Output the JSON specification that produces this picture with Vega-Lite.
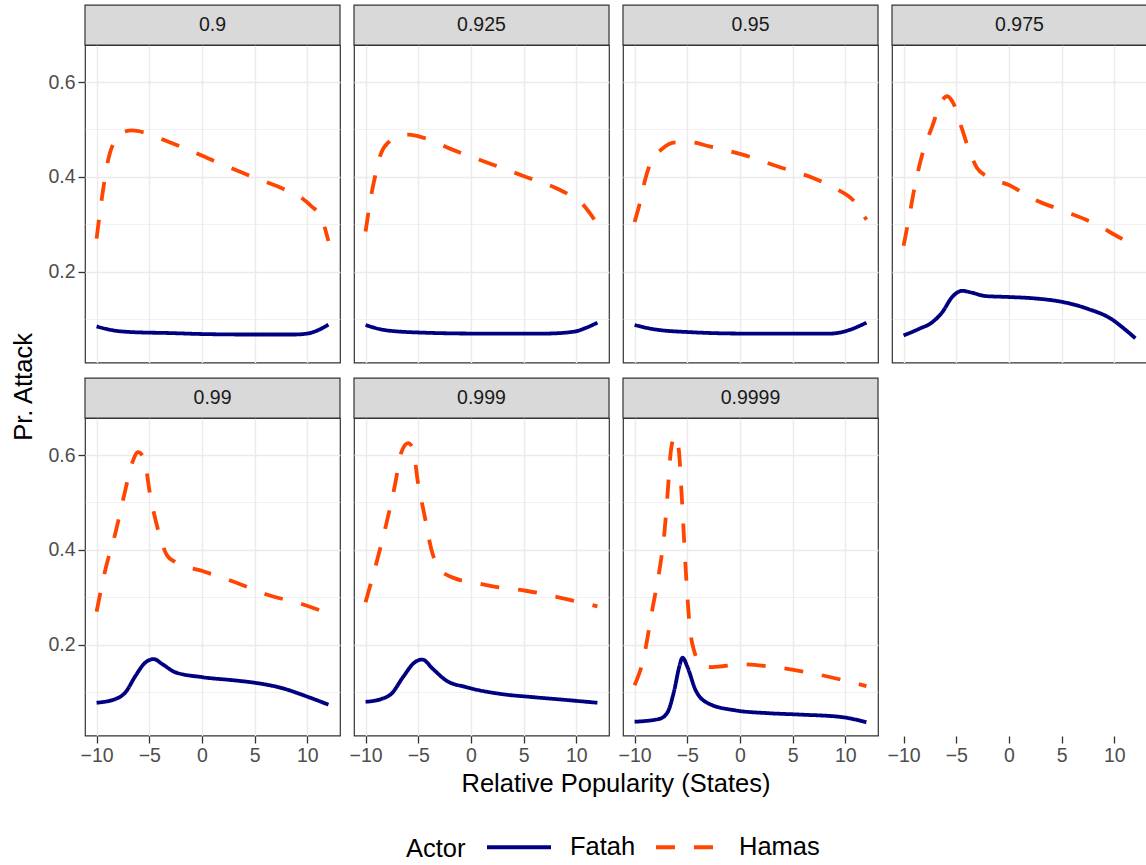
{
  "$schema": "https://vega.github.io/schema/vega-lite/v6.json",
  "description": "Pr. Attack by relative popularity, faceted by level",
  "title": {"text": "Pr. Attack", "orient": "left", "anchor": "middle", "frame": "bounds", "dx": 46, "fontSize": 25.5, "fontWeight": "normal", "font": "Liberation Sans", "color": "#000000", "offset": 10},
  "padding": {"left": 12, "top": 2, "right": 0, "bottom": 0},
  "bounds": "flush",
  "spacing": {"row": 55, "column": 14},
  "columns": 4,
  "data": {
    "values": [
      {"level": "0.9", "actor": "Hamas", "x": -10, "y": 0.27},
      {"level": "0.9", "actor": "Hamas", "x": -9.5, "y": 0.355},
      {"level": "0.9", "actor": "Hamas", "x": -8.9, "y": 0.436},
      {"level": "0.9", "actor": "Hamas", "x": -8.2, "y": 0.479},
      {"level": "0.9", "actor": "Hamas", "x": -7.4, "y": 0.495},
      {"level": "0.9", "actor": "Hamas", "x": -6.6, "y": 0.498},
      {"level": "0.9", "actor": "Hamas", "x": -5.4, "y": 0.493},
      {"level": "0.9", "actor": "Hamas", "x": -3.5, "y": 0.477},
      {"level": "0.9", "actor": "Hamas", "x": -1.9, "y": 0.463},
      {"level": "0.9", "actor": "Hamas", "x": 1.2, "y": 0.433},
      {"level": "0.9", "actor": "Hamas", "x": 4.7, "y": 0.401},
      {"level": "0.9", "actor": "Hamas", "x": 7.9, "y": 0.373},
      {"level": "0.9", "actor": "Hamas", "x": 9.5, "y": 0.355},
      {"level": "0.9", "actor": "Hamas", "x": 10.4, "y": 0.338},
      {"level": "0.9", "actor": "Hamas", "x": 11.3, "y": 0.316},
      {"level": "0.9", "actor": "Hamas", "x": 12, "y": 0.265},
      {"level": "0.9", "actor": "Fatah", "x": -10, "y": 0.085},
      {"level": "0.9", "actor": "Fatah", "x": -8.5, "y": 0.077},
      {"level": "0.9", "actor": "Fatah", "x": -6.6, "y": 0.073},
      {"level": "0.9", "actor": "Fatah", "x": -3, "y": 0.071},
      {"level": "0.9", "actor": "Fatah", "x": 0, "y": 0.069},
      {"level": "0.9", "actor": "Fatah", "x": 4, "y": 0.068},
      {"level": "0.9", "actor": "Fatah", "x": 8.8, "y": 0.068},
      {"level": "0.9", "actor": "Fatah", "x": 10, "y": 0.07},
      {"level": "0.9", "actor": "Fatah", "x": 10.8, "y": 0.075},
      {"level": "0.9", "actor": "Fatah", "x": 12, "y": 0.089},
      {"level": "0.925", "actor": "Hamas", "x": -10, "y": 0.285},
      {"level": "0.925", "actor": "Hamas", "x": -9.43, "y": 0.366},
      {"level": "0.925", "actor": "Hamas", "x": -9.1, "y": 0.401},
      {"level": "0.925", "actor": "Hamas", "x": -8.58, "y": 0.447},
      {"level": "0.925", "actor": "Hamas", "x": -7.74, "y": 0.475},
      {"level": "0.925", "actor": "Hamas", "x": -6.8, "y": 0.486},
      {"level": "0.925", "actor": "Hamas", "x": -5.9, "y": 0.489},
      {"level": "0.925", "actor": "Hamas", "x": -4.4, "y": 0.482},
      {"level": "0.925", "actor": "Hamas", "x": -1.7, "y": 0.457},
      {"level": "0.925", "actor": "Hamas", "x": 1.7, "y": 0.429},
      {"level": "0.925", "actor": "Hamas", "x": 5.1, "y": 0.401},
      {"level": "0.925", "actor": "Hamas", "x": 8.1, "y": 0.376},
      {"level": "0.925", "actor": "Hamas", "x": 9.5, "y": 0.36},
      {"level": "0.925", "actor": "Hamas", "x": 10.5, "y": 0.345},
      {"level": "0.925", "actor": "Hamas", "x": 11.4, "y": 0.32},
      {"level": "0.925", "actor": "Hamas", "x": 12, "y": 0.3},
      {"level": "0.925", "actor": "Fatah", "x": -10, "y": 0.088},
      {"level": "0.925", "actor": "Fatah", "x": -8.1, "y": 0.077},
      {"level": "0.925", "actor": "Fatah", "x": -4.7, "y": 0.072},
      {"level": "0.925", "actor": "Fatah", "x": 0.35, "y": 0.07},
      {"level": "0.925", "actor": "Fatah", "x": 7.1, "y": 0.07},
      {"level": "0.925", "actor": "Fatah", "x": 9.8, "y": 0.074},
      {"level": "0.925", "actor": "Fatah", "x": 10.8, "y": 0.081},
      {"level": "0.925", "actor": "Fatah", "x": 12, "y": 0.093},
      {"level": "0.95", "actor": "Hamas", "x": -10, "y": 0.305},
      {"level": "0.95", "actor": "Hamas", "x": -9.5, "y": 0.345},
      {"level": "0.95", "actor": "Hamas", "x": -9.0, "y": 0.394},
      {"level": "0.95", "actor": "Hamas", "x": -8.5, "y": 0.429},
      {"level": "0.95", "actor": "Hamas", "x": -7.5, "y": 0.457},
      {"level": "0.95", "actor": "Hamas", "x": -6.1, "y": 0.473},
      {"level": "0.95", "actor": "Hamas", "x": -4.8, "y": 0.473},
      {"level": "0.95", "actor": "Hamas", "x": -2.8, "y": 0.464},
      {"level": "0.95", "actor": "Hamas", "x": 0.25, "y": 0.447},
      {"level": "0.95", "actor": "Hamas", "x": 3.6, "y": 0.422},
      {"level": "0.95", "actor": "Hamas", "x": 7.0, "y": 0.397},
      {"level": "0.95", "actor": "Hamas", "x": 9.3, "y": 0.373},
      {"level": "0.95", "actor": "Hamas", "x": 10.7, "y": 0.352},
      {"level": "0.95", "actor": "Hamas", "x": 12, "y": 0.31},
      {"level": "0.95", "actor": "Fatah", "x": -10, "y": 0.088},
      {"level": "0.95", "actor": "Fatah", "x": -8.15, "y": 0.079},
      {"level": "0.95", "actor": "Fatah", "x": -4.8, "y": 0.073},
      {"level": "0.95", "actor": "Fatah", "x": 0.25, "y": 0.07},
      {"level": "0.95", "actor": "Fatah", "x": 8.65, "y": 0.07},
      {"level": "0.95", "actor": "Fatah", "x": 10.3, "y": 0.077},
      {"level": "0.95", "actor": "Fatah", "x": 12, "y": 0.093},
      {"level": "0.975", "actor": "Hamas", "x": -10, "y": 0.255},
      {"level": "0.975", "actor": "Hamas", "x": -9.47, "y": 0.316},
      {"level": "0.975", "actor": "Hamas", "x": -9.0, "y": 0.373},
      {"level": "0.975", "actor": "Hamas", "x": -8.2, "y": 0.45},
      {"level": "0.975", "actor": "Hamas", "x": -7.27, "y": 0.507},
      {"level": "0.975", "actor": "Hamas", "x": -6.48, "y": 0.556},
      {"level": "0.975", "actor": "Hamas", "x": -5.86, "y": 0.57},
      {"level": "0.975", "actor": "Hamas", "x": -5.3, "y": 0.556},
      {"level": "0.975", "actor": "Hamas", "x": -4.44, "y": 0.5},
      {"level": "0.975", "actor": "Hamas", "x": -3.8, "y": 0.457},
      {"level": "0.975", "actor": "Hamas", "x": -3.03, "y": 0.419},
      {"level": "0.975", "actor": "Hamas", "x": -2.09, "y": 0.401},
      {"level": "0.975", "actor": "Hamas", "x": 0, "y": 0.383},
      {"level": "0.975", "actor": "Hamas", "x": 2.46, "y": 0.352},
      {"level": "0.975", "actor": "Hamas", "x": 4.98, "y": 0.33},
      {"level": "0.975", "actor": "Hamas", "x": 8.1, "y": 0.302},
      {"level": "0.975", "actor": "Hamas", "x": 10.6, "y": 0.271},
      {"level": "0.975", "actor": "Hamas", "x": 12, "y": 0.255},
      {"level": "0.975", "actor": "Fatah", "x": -10, "y": 0.066},
      {"level": "0.975", "actor": "Fatah", "x": -8.52, "y": 0.08},
      {"level": "0.975", "actor": "Fatah", "x": -7.27, "y": 0.094},
      {"level": "0.975", "actor": "Fatah", "x": -6.33, "y": 0.115},
      {"level": "0.975", "actor": "Fatah", "x": -5.39, "y": 0.147},
      {"level": "0.975", "actor": "Fatah", "x": -4.44, "y": 0.16},
      {"level": "0.975", "actor": "Fatah", "x": -3.5, "y": 0.156},
      {"level": "0.975", "actor": "Fatah", "x": -2.24, "y": 0.149},
      {"level": "0.975", "actor": "Fatah", "x": 0, "y": 0.147},
      {"level": "0.975", "actor": "Fatah", "x": 2.46, "y": 0.144},
      {"level": "0.975", "actor": "Fatah", "x": 4.98, "y": 0.137},
      {"level": "0.975", "actor": "Fatah", "x": 7.49, "y": 0.122},
      {"level": "0.975", "actor": "Fatah", "x": 9.69, "y": 0.101},
      {"level": "0.975", "actor": "Fatah", "x": 10.94, "y": 0.08},
      {"level": "0.975", "actor": "Fatah", "x": 12, "y": 0.06},
      {"level": "0.99", "actor": "Hamas", "x": -10, "y": 0.27},
      {"level": "0.99", "actor": "Hamas", "x": -9.15, "y": 0.36},
      {"level": "0.99", "actor": "Hamas", "x": -8.2, "y": 0.437},
      {"level": "0.99", "actor": "Hamas", "x": -7.4, "y": 0.514},
      {"level": "0.99", "actor": "Hamas", "x": -6.6, "y": 0.585},
      {"level": "0.99", "actor": "Hamas", "x": -6.06, "y": 0.606},
      {"level": "0.99", "actor": "Hamas", "x": -5.5, "y": 0.592},
      {"level": "0.99", "actor": "Hamas", "x": -4.9, "y": 0.514},
      {"level": "0.99", "actor": "Hamas", "x": -4.1, "y": 0.437},
      {"level": "0.99", "actor": "Hamas", "x": -3.3, "y": 0.388},
      {"level": "0.99", "actor": "Hamas", "x": -2.5, "y": 0.374},
      {"level": "0.99", "actor": "Hamas", "x": 0, "y": 0.356},
      {"level": "0.99", "actor": "Hamas", "x": 3.15, "y": 0.332},
      {"level": "0.99", "actor": "Hamas", "x": 6.3, "y": 0.305},
      {"level": "0.99", "actor": "Hamas", "x": 9.46, "y": 0.286},
      {"level": "0.99", "actor": "Hamas", "x": 12, "y": 0.266},
      {"level": "0.99", "actor": "Fatah", "x": -10, "y": 0.078},
      {"level": "0.99", "actor": "Fatah", "x": -8.2, "y": 0.086},
      {"level": "0.99", "actor": "Fatah", "x": -7.26, "y": 0.1},
      {"level": "0.99", "actor": "Fatah", "x": -6.3, "y": 0.135},
      {"level": "0.99", "actor": "Fatah", "x": -5.36, "y": 0.163},
      {"level": "0.99", "actor": "Fatah", "x": -4.57, "y": 0.17},
      {"level": "0.99", "actor": "Fatah", "x": -3.8, "y": 0.16},
      {"level": "0.99", "actor": "Fatah", "x": -2.5, "y": 0.142},
      {"level": "0.99", "actor": "Fatah", "x": 0, "y": 0.132},
      {"level": "0.99", "actor": "Fatah", "x": 3.15, "y": 0.125},
      {"level": "0.99", "actor": "Fatah", "x": 5.05, "y": 0.12},
      {"level": "0.99", "actor": "Fatah", "x": 7.57, "y": 0.109},
      {"level": "0.99", "actor": "Fatah", "x": 10.1, "y": 0.09},
      {"level": "0.99", "actor": "Fatah", "x": 12, "y": 0.074},
      {"level": "0.999", "actor": "Hamas", "x": -10, "y": 0.29},
      {"level": "0.999", "actor": "Hamas", "x": -8.96, "y": 0.374},
      {"level": "0.999", "actor": "Hamas", "x": -8.0, "y": 0.458},
      {"level": "0.999", "actor": "Hamas", "x": -7.23, "y": 0.535},
      {"level": "0.999", "actor": "Hamas", "x": -6.6, "y": 0.606},
      {"level": "0.999", "actor": "Hamas", "x": -5.97, "y": 0.625},
      {"level": "0.999", "actor": "Hamas", "x": -5.5, "y": 0.613},
      {"level": "0.999", "actor": "Hamas", "x": -5.03, "y": 0.542},
      {"level": "0.999", "actor": "Hamas", "x": -4.4, "y": 0.472},
      {"level": "0.999", "actor": "Hamas", "x": -3.77, "y": 0.402},
      {"level": "0.999", "actor": "Hamas", "x": -3.0, "y": 0.36},
      {"level": "0.999", "actor": "Hamas", "x": -1.4, "y": 0.339},
      {"level": "0.999", "actor": "Hamas", "x": 0.16, "y": 0.332},
      {"level": "0.999", "actor": "Hamas", "x": 2.67, "y": 0.321},
      {"level": "0.999", "actor": "Hamas", "x": 5.2, "y": 0.314},
      {"level": "0.999", "actor": "Hamas", "x": 8.96, "y": 0.297},
      {"level": "0.999", "actor": "Hamas", "x": 12, "y": 0.281},
      {"level": "0.999", "actor": "Fatah", "x": -10, "y": 0.08},
      {"level": "0.999", "actor": "Fatah", "x": -8.5, "y": 0.086},
      {"level": "0.999", "actor": "Fatah", "x": -7.55, "y": 0.097},
      {"level": "0.999", "actor": "Fatah", "x": -6.45, "y": 0.132},
      {"level": "0.999", "actor": "Fatah", "x": -5.35, "y": 0.163},
      {"level": "0.999", "actor": "Fatah", "x": -4.62, "y": 0.169},
      {"level": "0.999", "actor": "Fatah", "x": -3.6, "y": 0.149},
      {"level": "0.999", "actor": "Fatah", "x": -2.36, "y": 0.125},
      {"level": "0.999", "actor": "Fatah", "x": -0.47, "y": 0.111},
      {"level": "0.999", "actor": "Fatah", "x": 2.67, "y": 0.097},
      {"level": "0.999", "actor": "Fatah", "x": 5.8, "y": 0.09},
      {"level": "0.999", "actor": "Fatah", "x": 8.96, "y": 0.084},
      {"level": "0.999", "actor": "Fatah", "x": 12, "y": 0.078},
      {"level": "0.9999", "actor": "Hamas", "x": -10, "y": 0.115},
      {"level": "0.9999", "actor": "Hamas", "x": -9.2, "y": 0.167},
      {"level": "0.9999", "actor": "Hamas", "x": -8.28, "y": 0.279},
      {"level": "0.9999", "actor": "Hamas", "x": -7.65, "y": 0.356},
      {"level": "0.9999", "actor": "Hamas", "x": -7.18, "y": 0.434},
      {"level": "0.9999", "actor": "Hamas", "x": -6.87, "y": 0.518},
      {"level": "0.9999", "actor": "Hamas", "x": -6.55, "y": 0.61},
      {"level": "0.9999", "actor": "Hamas", "x": -6.2, "y": 0.64},
      {"level": "0.9999", "actor": "Hamas", "x": -5.83, "y": 0.615},
      {"level": "0.9999", "actor": "Hamas", "x": -5.52, "y": 0.511},
      {"level": "0.9999", "actor": "Hamas", "x": -5.14, "y": 0.356},
      {"level": "0.9999", "actor": "Hamas", "x": -4.76, "y": 0.237},
      {"level": "0.9999", "actor": "Hamas", "x": -4.36, "y": 0.188},
      {"level": "0.9999", "actor": "Hamas", "x": -3.57, "y": 0.156},
      {"level": "0.9999", "actor": "Hamas", "x": -2.63, "y": 0.153},
      {"level": "0.9999", "actor": "Hamas", "x": 0.19, "y": 0.159},
      {"level": "0.9999", "actor": "Hamas", "x": 3.3, "y": 0.153},
      {"level": "0.9999", "actor": "Hamas", "x": 7.1, "y": 0.139},
      {"level": "0.9999", "actor": "Hamas", "x": 12, "y": 0.113},
      {"level": "0.9999", "actor": "Fatah", "x": -10, "y": 0.038},
      {"level": "0.9999", "actor": "Fatah", "x": -7.65, "y": 0.044},
      {"level": "0.9999", "actor": "Fatah", "x": -6.87, "y": 0.058},
      {"level": "0.9999", "actor": "Fatah", "x": -6.24, "y": 0.104},
      {"level": "0.9999", "actor": "Fatah", "x": -5.77, "y": 0.153},
      {"level": "0.9999", "actor": "Fatah", "x": -5.45, "y": 0.173},
      {"level": "0.9999", "actor": "Fatah", "x": -4.98, "y": 0.153},
      {"level": "0.9999", "actor": "Fatah", "x": -4.2, "y": 0.104},
      {"level": "0.9999", "actor": "Fatah", "x": -2.95, "y": 0.076},
      {"level": "0.9999", "actor": "Fatah", "x": -0.44, "y": 0.062},
      {"level": "0.9999", "actor": "Fatah", "x": 2.7, "y": 0.056},
      {"level": "0.9999", "actor": "Fatah", "x": 5.8, "y": 0.053},
      {"level": "0.9999", "actor": "Fatah", "x": 9.6, "y": 0.048},
      {"level": "0.9999", "actor": "Fatah", "x": 12, "y": 0.037}
    ]
  },
  "facet": {
    "field": "level",
    "type": "nominal",
    "sort": "ascending",
    "header": {
      "labels": false,
      "labelExpr": "''",
      "labelFontSize": 1,
      "labelPadding": 0,
      "title": "Relative Popularity (States)",
      "titleOrient": "bottom",
      "titlePadding": 7,
      "titleFontSize": 25.5,
      "titleFontWeight": "normal",
      "titleFont": "Liberation Sans",
      "titleColor": "#000000"
    }
  },
  "spec": {
    "width": 255,
    "height": 317.5,
    "layer": [
      {
        "transform": [{"filter": "datum.x == -10 && datum.actor == 'Fatah'"}],
        "mark": {"type": "rect", "fill": "#D9D9D9", "stroke": "#333333", "strokeWidth": 1.2, "clip": false},
        "encoding": {
          "x": {"datum": -11.1, "type": "quantitative"},
          "x2": {"datum": 13.1},
          "y": {"datum": 0.678, "type": "quantitative"},
          "y2": {"datum": 0.762}
        }
      },
      {
        "transform": [{"filter": "datum.x == -10 && datum.actor == 'Fatah'"}],
        "mark": {"type": "text", "font": "Liberation Sans", "fontSize": 19.5, "color": "#1A1A1A", "baseline": "middle", "align": "center", "clip": false},
        "encoding": {
          "x": {"datum": 1.0, "type": "quantitative"},
          "y": {"datum": 0.720, "type": "quantitative"},
          "text": {"field": "level", "type": "nominal"}
        }
      },
      {
        "mark": {"type": "line", "interpolate": "monotone", "strokeWidth": 3.8, "strokeCap": "butt"},
        "encoding": {
          "x": {
            "field": "x",
            "type": "quantitative",
            "scale": {"domain": [-11.1, 13.1], "nice": false, "zero": false},
            "axis": {
              "title": null,
              "values": [-10, -7.5, -5, -2.5, 0, 2.5, 5, 7.5, 10, 12.5],
              "labelExpr": "datum.value % 5 == 0 ? datum.label : ''",
              "tickOpacity": {"condition": {"test": "datum.value % 5 != 0", "value": 0}, "value": 1},
              "gridWidth": {"condition": {"test": "datum.value % 5 != 0", "value": 0.7}, "value": 1.4}
            }
          },
          "y": {
            "field": "y",
            "type": "quantitative",
            "scale": {"domain": [0.009, 0.678], "nice": false, "zero": false},
            "axis": {
              "title": null,
              "values": [0.1, 0.2, 0.3, 0.4, 0.5, 0.6],
              "format": ".1f",
              "labelExpr": "round(datum.value * 10) % 2 == 0 ? datum.label : ''",
              "tickOpacity": {"condition": {"test": "round(datum.value * 10) % 2 != 0", "value": 0}, "value": 1},
              "gridWidth": {"condition": {"test": "round(datum.value * 10) % 2 != 0", "value": 0.7}, "value": 1.4}
            }
          },
          "color": {
            "field": "actor",
            "type": "nominal",
            "scale": {"domain": ["Fatah", "Hamas"], "range": ["#000080", "#FF4500"]},
            "legend": {"title": "Actor", "orient": "none", "legendX": 321, "legendY": 768}
          },
          "strokeDash": {
            "field": "actor",
            "type": "nominal",
            "scale": {"domain": ["Fatah", "Hamas"], "range": [[1, 0], [19, 19]]},
            "legend": {"title": "Actor", "orient": "none", "legendX": 321, "legendY": 768}
          }
        }
      }
    ]
  },
  "config": {
    "font": "Liberation Sans",
    "view": {"stroke": "#333333", "strokeWidth": 1.2},
    "header": {"labels": false},
    "axis": {
      "domain": false,
      "grid": true,
      "gridColor": "#EBEBEB",
      "tickColor": "#333333",
      "tickSize": 7,
      "tickWidth": 1.3,
      "labelFont": "Liberation Sans",
      "labelFontSize": 19.5,
      "labelColor": "#4D4D4D",
      "labelPadding": 3
    },
    "legend": {
      "direction": "horizontal",
      "titleOrient": "left",
      "titleAnchor": "middle",
      "titleFont": "Liberation Sans",
      "titleFontSize": 25.5,
      "titleFontWeight": "normal",
      "titleColor": "#000000",
      "titleBaseline": "top",
      "labelFont": "Liberation Sans",
      "labelFontSize": 25.5,
      "labelColor": "#000000",
      "symbolType": "stroke",
      "symbolSize": 4096,
      "symbolStrokeWidth": 3.8,
      "columnPadding": 12,
      "labelOffset": 17,
      "titlePadding": 19
    }
  }
}
